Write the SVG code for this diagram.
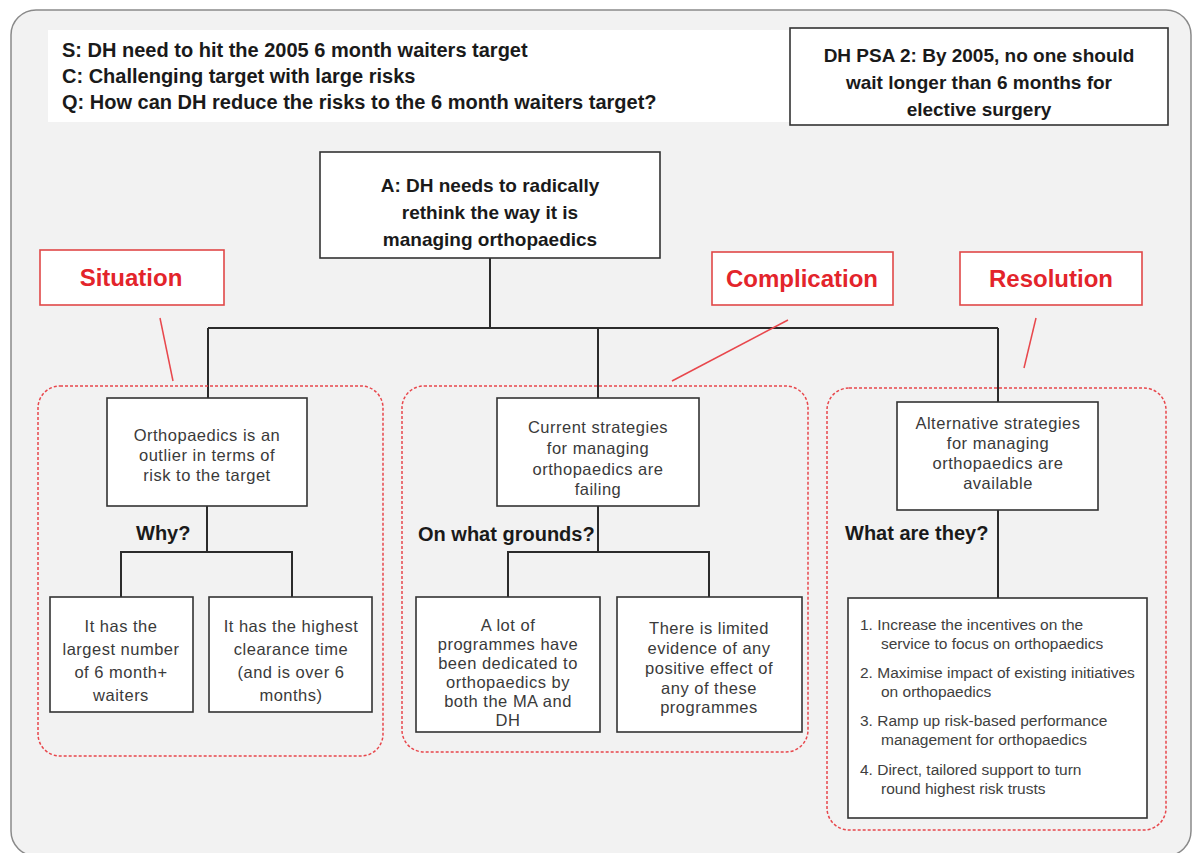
<svg xmlns="http://www.w3.org/2000/svg" width="1194" height="853" viewBox="0 0 1194 853">
<style>
.frame{fill:#f2f2f2;stroke:#8a8a8a;stroke-width:1.5}
.box{fill:#ffffff;stroke:#333333;stroke-width:1.6}
.lbl{fill:#ffffff;stroke:#e04848;stroke-width:1.6}
.grp{fill:none;stroke:#e8474c;stroke-width:1.5;stroke-dasharray:3 2}
.con{fill:none;stroke:#2b2b2b;stroke-width:2}
.red{fill:none;stroke:#e8474c;stroke-width:1.5}
.hd{font-family:"Liberation Sans",Arial,sans-serif;font-weight:bold;font-size:19px;fill:#1a1a1a}
.top{font-family:"Liberation Sans",Arial,sans-serif;font-weight:bold;font-size:20px;fill:#1a1a1a}
.lt{font-family:"Liberation Sans",Arial,sans-serif;font-weight:bold;font-size:24px;fill:#e3242b;text-anchor:middle}
.nt{font-family:"Liberation Sans",Arial,sans-serif;font-size:16.5px;letter-spacing:0.5px;fill:#3a3a3a;text-anchor:middle}
.q{font-family:"Liberation Sans",Arial,sans-serif;font-weight:bold;font-size:20px;fill:#1a1a1a}
.li{font-family:"Liberation Sans",Arial,sans-serif;font-size:15.5px;fill:#404040}
</style>
<rect class="frame" x="11" y="10" width="1180" height="846" rx="25"/>

<g id="header">
<rect x="48" y="30" width="742" height="92" fill="#ffffff"/>
<text class="top" x="62" y="57">S: DH need to hit the 2005 6 month waiters target</text>
<text class="top" x="62" y="83">C: Challenging target with large risks</text>
<text class="top" x="62" y="109">Q: How can DH reduce the risks to the 6 month waiters target?</text>
</g>

<g id="psa">
<rect class="box" x="790" y="28" width="378" height="97"/>
<text class="hd" x="979" y="62" text-anchor="middle">DH PSA 2: By 2005, no one should</text>
<text class="hd" x="979" y="89" text-anchor="middle">wait longer than 6 months for</text>
<text class="hd" x="979" y="116" text-anchor="middle">elective surgery</text>
</g>

<g id="connectors">
<polyline class="con" points="490,258 490,328 598,328"/>
<line class="con" x1="208" y1="328" x2="998" y2="328"/>
<line class="con" x1="208" y1="328" x2="208" y2="398"/>
<line class="con" x1="598" y1="328" x2="598" y2="398"/>
<line class="con" x1="998" y1="328" x2="998" y2="402"/>
<polyline class="con" points="207,506 207,552"/>
<polyline class="con" points="121,597 121,552 292,552 292,597"/>
<polyline class="con" points="598,506 598,552"/>
<polyline class="con" points="508,597 508,552 709,552 709,597"/>
<line class="con" x1="998" y1="510" x2="998" y2="598"/>
<line class="red" x1="160" y1="318" x2="173" y2="381"/>
<line class="red" x1="788" y1="320" x2="672" y2="381"/>
<line class="red" x1="1036" y1="318" x2="1024" y2="368"/>
</g>

<g id="groups">
<rect class="grp" x="38" y="386" width="345" height="370" rx="22"/>
<rect class="grp" x="402" y="386" width="406" height="366" rx="22"/>
<rect class="grp" x="827" y="388" width="339" height="442" rx="22"/>
</g>

<g id="nodeA">
<rect class="box" x="320" y="152" width="340" height="106"/>
<text class="hd" x="490" y="192" text-anchor="middle">A: DH needs to radically</text>
<text class="hd" x="490" y="219" text-anchor="middle">rethink the way it is</text>
<text class="hd" x="490" y="246" text-anchor="middle">managing orthopaedics</text>
</g>

<g id="situation">
<rect class="lbl" x="40" y="250" width="184" height="55"/>
<text class="lt" x="131" y="286">Situation</text>
</g>
<g id="complication">
<rect class="lbl" x="712" y="252" width="181" height="53"/>
<text class="lt" x="802" y="287">Complication</text>
</g>
<g id="resolution">
<rect class="lbl" x="960" y="252" width="182" height="53"/>
<text class="lt" x="1051" y="287">Resolution</text>
</g>

<g id="outlier">
<rect class="box" x="107" y="398" width="200" height="108"/>
<text class="nt" x="207" y="441">Orthopaedics is an</text>
<text class="nt" x="207" y="461">outlier in terms of</text>
<text class="nt" x="207" y="481">risk to the target</text>
</g>
<text class="q" x="136" y="540">Why?</text>

<g id="largest">
<rect class="box" x="50" y="597" width="143" height="115"/>
<text class="nt" x="121" y="632">It has the</text>
<text class="nt" x="121" y="655">largest number</text>
<text class="nt" x="121" y="678">of 6 month+</text>
<text class="nt" x="121" y="701">waiters</text>
</g>
<g id="highest">
<rect class="box" x="209" y="597" width="163" height="115"/>
<text class="nt" x="291" y="632">It has the highest</text>
<text class="nt" x="291" y="655">clearance time</text>
<text class="nt" x="291" y="678">(and is over 6</text>
<text class="nt" x="291" y="701">months)</text>
</g>

<g id="current">
<rect class="box" x="497" y="398" width="202" height="108"/>
<text class="nt" x="598" y="433">Current strategies</text>
<text class="nt" x="598" y="454">for managing</text>
<text class="nt" x="598" y="475">orthopaedics are</text>
<text class="nt" x="598" y="495">failing</text>
</g>
<text class="q" x="418" y="541">On what grounds?</text>

<g id="lot">
<rect class="box" x="416" y="597" width="184" height="135"/>
<text class="nt" x="508" y="631">A lot of</text>
<text class="nt" x="508" y="650">programmes have</text>
<text class="nt" x="508" y="669">been dedicated to</text>
<text class="nt" x="508" y="688">orthopaedics by</text>
<text class="nt" x="508" y="707">both the MA and</text>
<text class="nt" x="508" y="726">DH</text>
</g>
<g id="limited">
<rect class="box" x="617" y="597" width="185" height="135"/>
<text class="nt" x="709" y="634">There is limited</text>
<text class="nt" x="709" y="654">evidence of any</text>
<text class="nt" x="709" y="674">positive effect of</text>
<text class="nt" x="709" y="694">any of these</text>
<text class="nt" x="709" y="713">programmes</text>
</g>

<g id="alternative">
<rect class="box" x="897" y="402" width="201" height="108"/>
<text class="nt" x="998" y="429">Alternative strategies</text>
<text class="nt" x="998" y="449">for managing</text>
<text class="nt" x="998" y="469">orthopaedics are</text>
<text class="nt" x="998" y="489">available</text>
</g>
<text class="q" x="845" y="540">What are they?</text>

<g id="list">
<rect class="box" x="848" y="598" width="299" height="220"/>
<text class="li" x="860" y="630">1. Increase the incentives on the</text>
<text class="li" x="881" y="649">service to focus on orthopaedics</text>
<text class="li" x="860" y="678">2. Maximise impact of existing initiatives</text>
<text class="li" x="881" y="697">on orthopaedics</text>
<text class="li" x="860" y="726">3. Ramp up risk-based performance</text>
<text class="li" x="881" y="745">management for orthopaedics</text>
<text class="li" x="860" y="775">4. Direct, tailored support to turn</text>
<text class="li" x="881" y="794">round highest risk trusts</text>
</g>
</svg>
